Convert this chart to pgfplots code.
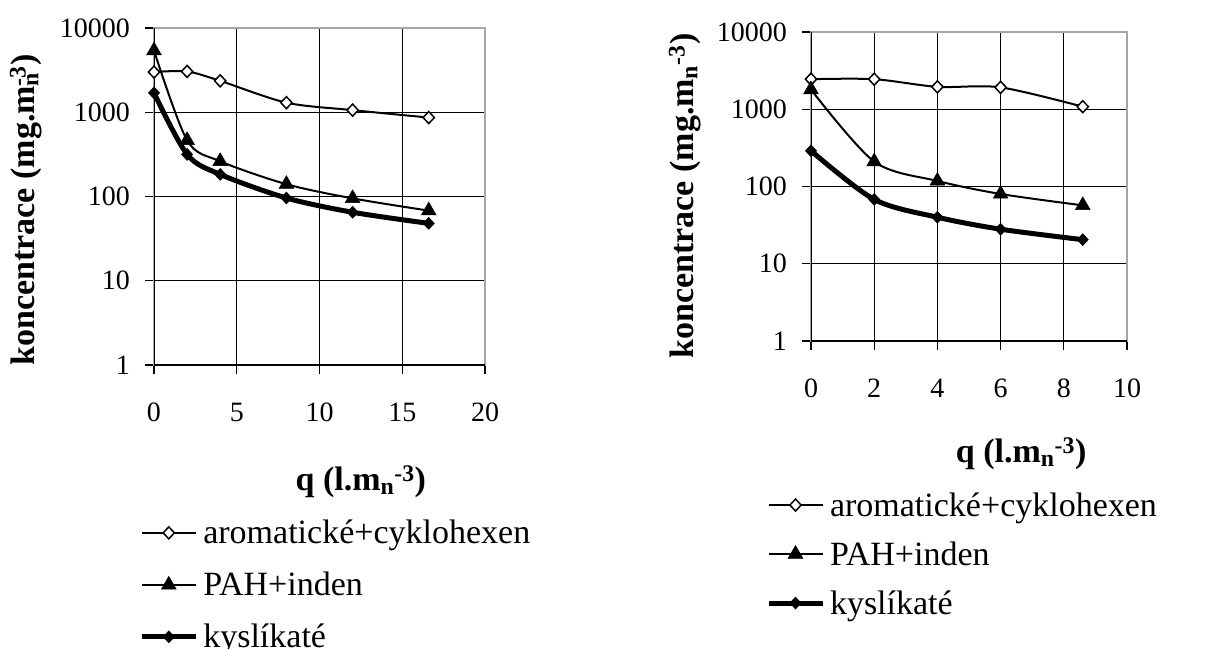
\documentclass[border=0pt]{standalone}
\usepackage{pgfplots}
\pgfplotsset{compat=1.18}
\usepackage{fontspec}
\setmainfont{Liberation Serif}
\tikzset{
  sA/.style={black, line width=2pt, smooth, mark=diamond*, mark size=6pt,
    mark options={fill=white, solid, line width=1.5pt, xscale=1.25}},
  sB/.style={black, line width=2pt, smooth, mark=triangle*, mark size=8.5pt,
    mark options={fill=black, solid, line width=0.5pt}},
  sC/.style={black, line width=5pt, smooth, mark=diamond*, mark size=6pt,
    mark options={fill=black, solid, line width=0.5pt, xscale=1.25}},
}
\pgfplotsset{
  every axis/.append style={
    scale only axis,
    grid=major,
    major grid style={black, line width=1.2pt},
    axis line style={gray!70, line width=1.5pt},
    tick style={black, line width=1.2pt},
    tick align=outside, major tick length=9pt,
    xtick pos=left, ytick pos=left,
    tick label style={font=\fontsize{28}{30}\selectfont},
    yticklabel style={font=\fontsize{28}{30}\selectfont, anchor=east, inner sep=0pt, xshift=-15pt},
    xticklabel style={font=\fontsize{28}{30}\selectfont, anchor=north, inner sep=0pt, yshift=-29pt},
    label style={font=\bfseries\fontsize{34}{40}\selectfont},
    legend style={draw=none, fill=none, inner sep=0pt,
      font=\fontsize{34}{40}\selectfont},
    legend cell align=left,
  },
  legend image code/.code={\draw[mark repeat=2,mark phase=2,#1] plot coordinates {(0pt,11pt) (27pt,11pt) (54pt,11pt)};},
}
\begin{document}
\begin{tikzpicture}
\useasboundingbox (0,0) rectangle (1221pt,-648pt);
% left chart
\begin{axis}[
  at={(154pt,-365pt)}, anchor=south west,
  width=331pt, height=337pt,
  ymode=log, ymin=1, ymax=10000,
  ytick={1,10,100,1000,10000},
  yticklabels={1,10,100,1000,10000},
  yminorticks=false,
  /pgf/number format/assume math mode=true,
  xmin=0, xmax=20, xtick={0,5,10,15,20},
  xlabel={q (l.m\textsubscript{n}\textsuperscript{-3})},
  ylabel={koncentrace (mg.m\rlap{\textsubscript{n}}\textsuperscript{-3})},
  xlabel style={at={(axis description cs:0.625,-0.347)}, anchor=center},
  ylabel style={at={(axis description cs:-0.387,0.46)}, anchor=center},
  legend style={at={(axis description cs:-0.045,-0.685)}, anchor=west,
    nodes={inner xsep=5pt, inner ysep=0pt, text height=26pt, text depth=26pt}},
]
\addplot[sA] coordinates {(0,3000) (2,3050) (4,2360) (8,1300) (12,1060) (16.6,865)};
\addlegendentry{aromatické+cyklohexen}
\addplot[sB] coordinates {(0,5400) (2,465) (4,262) (8,140) (12,95) (16.6,68)};
\addlegendentry{PAH+inden}
\addplot[sC] coordinates {(0,1700) (2,316) (4,183) (8,96) (12,65) (16.6,48)};
\addlegendentry{kyslíkaté}
\draw[black, line width=1.5pt] (rel axis cs:0,1) -- (rel axis cs:0,0) -- (rel axis cs:1,0);
\end{axis}
% right chart
\begin{axis}[
  at={(811pt,-341pt)}, anchor=south west,
  width=316pt, height=309pt,
  ymode=log, ymin=1, ymax=10000,
  ytick={1,10,100,1000,10000},
  yticklabels={1,10,100,1000,10000},
  yminorticks=false,
  /pgf/number format/assume math mode=true,
  xmin=0, xmax=10, xtick={0,2,4,6,8,10},
  xlabel={q (l.m\textsubscript{n}\textsuperscript{-3})},
  ylabel={koncentrace (mg.m\textsubscript{n}\textsuperscript{-3})},
  xlabel style={at={(axis description cs:0.665,-0.366)}, anchor=center},
  ylabel style={at={(axis description cs:-0.399,0.469)}, anchor=center},
  legend style={at={(axis description cs:-0.143,-0.725)}, anchor=west,
    nodes={inner xsep=5pt, inner ysep=0pt, text height=24.5pt, text depth=24.5pt}},
]
\addplot[sA] coordinates {(0,2450) (2,2450) (4,1950) (6,1920) (8.6,1080)};
\addlegendentry{aromatické+cyklohexen}
\addplot[sB] coordinates {(0,1800) (2,210) (4,118) (6,80) (8.6,57)};
\addlegendentry{PAH+inden}
\addplot[sC] coordinates {(0,290) (2,68) (4,40) (6,28) (8.6,20.5)};
\addlegendentry{kyslíkaté}
\draw[black, line width=1.5pt] (rel axis cs:0,1) -- (rel axis cs:0,0) -- (rel axis cs:1,0);
\end{axis}
\end{tikzpicture}
\end{document}
